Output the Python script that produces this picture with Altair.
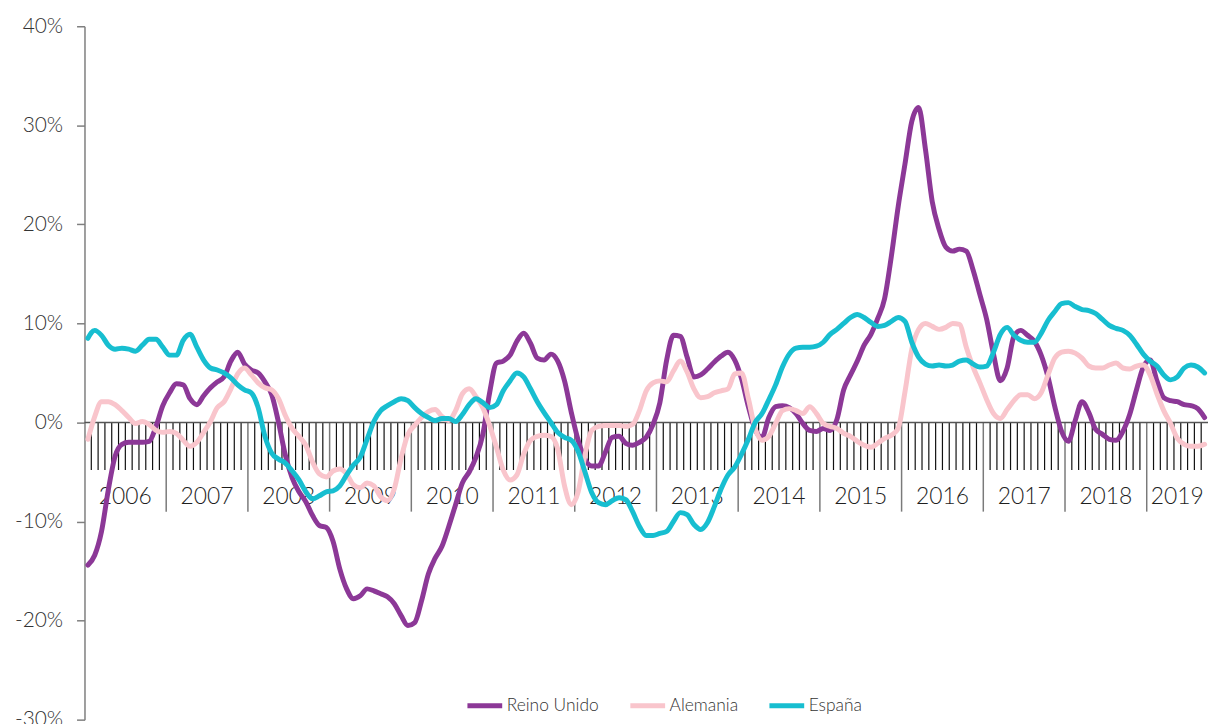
import altair as alt
import pandas as pd

# ---- data (monthly, Jan 2006 .. Sep 2019), in % ----
years = ["2006", "2007", "2008", "2009", "2010", "2011", "2012",
         "2013", "2014", "2015", "2016", "2017", "2018", "2019"]
n_months = 165

reino_unido = [
    -14.4, -13.4, -11.0, -6.8, -3.4, -2.2, -2.0, -2.0, -2.0, -1.9, -0.4, 1.7,
    3.0, 3.9, 3.8, 2.4, 1.8, 2.7, 3.5, 4.1, 4.6, 6.2, 7.1, 5.9,
    5.3, 5.0, 4.1, 2.8, 0.0, -3.3, -5.6, -7.0, -8.0, -9.4, -10.4, -10.6,
    -12.0, -14.8, -16.8, -17.8, -17.5, -16.8, -17.0, -17.3, -17.6, -18.3, -19.5, -20.5,
    -20.2, -18.0, -15.3, -13.7, -12.5, -10.5, -8.3, -6.1, -5.0, -3.5, -1.2, 3.0,
    6.0, 6.2, 6.8, 8.2, 9.0, 8.0, 6.5, 6.3, 6.9, 6.2, 4.2, 1.0,
    -1.8, -3.7, -4.4, -4.4, -3.0, -1.5, -1.4, -2.1, -2.3, -2.0, -1.5, -0.2,
    2.0, 6.3, 8.8, 8.7, 6.6, 4.6, 4.8, 5.4, 6.1, 6.7, 7.1, 6.3,
    4.4, 1.6, -0.7, -1.5, 0.5, 1.6, 1.7, 1.5, 0.9, -0.1, -0.8, -0.9,
    -0.6, -0.8, 0.3, 3.3, 4.8, 6.2, 7.8, 8.9, 10.5, 12.5, 16.8, 21.8,
    26.1, 30.4, 31.8, 27.6, 22.3, 19.5, 17.7, 17.3, 17.5, 17.3, 15.4, 12.9,
    10.4, 6.9, 4.2, 5.5, 8.7, 9.3, 8.8, 8.2, 6.8, 4.6, 1.6, -0.9,
    -1.9, 0.2, 2.1, 1.0, -0.7, -1.2, -1.7, -1.8, -0.9, 0.8, 3.3, 5.6,
    6.3, 4.2, 2.5, 2.2, 2.1, 1.8, 1.7, 1.4, 0.5,
]

alemania = [
    -1.7, 0.6, 2.1, 2.1, 1.8, 1.2, 0.5, -0.1, 0.1, -0.2, -0.8, -1.0,
    -0.9, -1.1, -1.8, -2.4, -2.0, -1.0, 0.1, 1.5, 2.1, 3.4, 4.9, 5.5,
    4.8, 4.0, 3.5, 3.3, 2.4, 0.7, -0.6, -1.4, -2.3, -4.0, -5.2, -5.5,
    -4.9, -4.7, -5.2, -6.3, -6.6, -6.1, -6.4, -7.5, -7.9, -6.7, -3.6, -1.2,
    -0.3, 0.5, 1.1, 1.3, 0.6, 0.2, 1.2, 2.9, 3.4, 2.6, 1.5, -0.3,
    -2.5, -4.8, -5.8, -5.3, -3.2, -1.8, -1.4, -1.3, -1.4, -2.7, -6.4, -8.3,
    -7.0, -3.3, -0.8, -0.4, -0.3, -0.3, -0.3, -0.4, -0.2, 1.2, 3.2, 4.0,
    4.2, 4.1, 5.2, 6.2, 5.1, 3.4, 2.5, 2.6, 3.0, 3.2, 3.4, 4.9,
    5.0, 2.4, -0.6, -1.8, -1.4, -0.1, 1.2, 1.4, 1.2, 0.9, 1.6, 0.9,
    -0.1, -0.4, -0.6, -1.1, -1.4, -1.9, -2.3, -2.5, -2.1, -1.6, -1.3, -0.6,
    3.1, 7.4, 9.4, 10.0, 9.7, 9.4, 9.6, 10.0, 9.9, 7.6, 5.6, 4.0,
    2.3, 0.9, 0.4, 1.3, 2.2, 2.8, 2.8, 2.4, 3.0, 4.8, 6.5, 7.1,
    7.2, 7.0, 6.5, 5.7, 5.5, 5.5, 5.8, 6.0, 5.5, 5.4, 5.7, 5.8,
    4.8, 2.9, 1.2, -0.1, -1.6, -2.2, -2.4, -2.4, -2.2,
]

espana = [
    8.5, 9.3, 8.8, 7.8, 7.4, 7.5, 7.4, 7.2, 7.8, 8.4, 8.4, 7.6,
    6.8, 6.8, 8.3, 8.9, 7.6, 6.3, 5.5, 5.3, 5.0, 4.5, 3.8, 3.3,
    3.0, 1.5, -1.4, -3.1, -3.7, -4.1, -4.9, -5.8, -7.0, -7.7, -7.4, -7.0,
    -6.9, -6.4, -5.3, -4.3, -3.5, -1.7, 0.1, 1.2, 1.7, 2.1, 2.4, 2.2,
    1.5, 0.9, 0.5, 0.2, 0.4, 0.4, 0.1, 0.8, 1.8, 2.4, 2.0, 1.5,
    1.8, 3.2, 4.2, 5.0, 4.6, 3.4, 2.1, 1.0, 0.0, -1.0, -1.5, -1.8,
    -2.9, -5.0, -7.1, -8.1, -8.3, -7.9, -7.6, -7.8, -9.0, -10.5, -11.4, -11.4,
    -11.2, -11.0, -10.0, -9.1, -9.3, -10.3, -10.8, -10.1, -8.5, -6.7, -5.3, -4.5,
    -3.2, -1.7, 0.0, 0.9, 2.3, 3.8, 5.6, 6.9, 7.5, 7.6, 7.6, 7.7,
    8.1, 8.9, 9.4, 10.0, 10.6, 10.9, 10.6, 10.1, 9.7, 9.8, 10.2, 10.6,
    10.2, 8.1, 6.6, 5.9, 5.7, 5.8, 5.7, 5.8, 6.2, 6.3, 5.9, 5.6,
    5.7, 7.1, 8.9, 9.6, 8.8, 8.3, 8.1, 8.1, 9.0, 10.3, 11.2, 12.0,
    12.1, 11.7, 11.4, 11.3, 11.0, 10.4, 9.8, 9.5, 9.3, 8.8, 7.9, 6.9,
    6.2, 5.7, 4.8, 4.3, 4.6, 5.5, 5.8, 5.6, 5.0,
]

series_names = ["Reino Unido", "Alemania", "España"]
series_colors = ["#8C3897", "#F9C5CC", "#17BED0"]
y_ticks = [-30, -20, -10, 0, 10, 20, 30, 40]

# ---- tables ----
rows = []
for name, vals in zip(series_names, [reino_unido, alemania, espana]):
    for i, v in enumerate(vals):
        rows.append({"t": i, "serie": name, "v": v, "order": series_names.index(name)})
df = pd.DataFrame(rows)

bounds = [k - 0.5 for k in range(1, n_months)]
month_ticks = pd.DataFrame({"b": [b for b in bounds if int(b + 0.5) % 12 != 0]})
year_ticks = pd.DataFrame({"b": [b for b in bounds if int(b + 0.5) % 12 == 0]})
year_lab = pd.DataFrame({
    "year": years,
    "c": [((12 * k - 0.5) + min(12 * k + 11.5, n_months - 0.5)) / 2 for k in range(len(years))],
})
zero_df = pd.DataFrame({"z": [0]})

FONT = "Lato"
xscale = alt.Scale(domain=[-0.5, n_months - 0.5], nice=False, zero=False)
yscale = alt.Scale(domain=[-30, 40], nice=False, zero=False)

lines = alt.Chart(df).mark_line(
    strokeWidth=5, interpolate="monotone", strokeCap="round", strokeJoin="round"
).encode(
    x=alt.X("t:Q", scale=xscale, axis=None),
    y=alt.Y(
        "v:Q",
        scale=yscale,
        axis=alt.Axis(
            values=y_ticks,
            labelExpr="datum.value + '%'",
            title=None,
            grid=False,
            orient="left",
            domainColor="#7f7f7f",
            domainWidth=1.5,
            tickColor="#7f7f7f",
            tickWidth=1.5,
            tickSize=8,
            labelPadding=14,
            labelFont=FONT,
            labelFontSize=21,
            labelFontWeight=300,
            labelColor="#333333",
        ),
    ),
    color=alt.Color(
        "serie:N",
        scale=alt.Scale(domain=series_names, range=series_colors),
        legend=alt.Legend(
            orient="none",
            legendX=383,
            legendY=664,
            direction="horizontal",
            title=None,
            symbolType="stroke",
            symbolStrokeWidth=5,
            symbolSize=1225,
            labelFont=FONT,
            labelFontSize=17.5,
            labelFontWeight=300,
            labelColor="#333333",
            labelOffset=2,
            columnPadding=21,
            padding=0,
        ),
    ),
    order=alt.Order("order:Q"),
)

mticks = alt.Chart(month_ticks).mark_rule(color="#111111", strokeWidth=1.2).encode(
    x=alt.X("b:Q", scale=xscale, axis=None),
    y=alt.Y(datum=0, scale=yscale, axis=None),
    y2=alt.Y2(datum=-4.8),
)

yticks_rules = alt.Chart(year_ticks).mark_rule(color="#7a7a7a", strokeWidth=1.5).encode(
    x=alt.X("b:Q", scale=xscale, axis=None),
    y=alt.Y(datum=0, scale=yscale, axis=None),
    y2=alt.Y2(datum=-9.0),
)

zero_line = alt.Chart(zero_df).mark_rule(color="#555555", strokeWidth=1.4).encode(
    y=alt.Y("z:Q", scale=yscale, axis=None),
)

ylabels = alt.Chart(year_lab).mark_text(
    font=FONT, fontSize=23, fontWeight=300, color="#1f1f1f", baseline="middle", align="center"
).encode(
    x=alt.X("c:Q", scale=xscale, axis=None),
    y=alt.Y(datum=-7.5, scale=yscale, axis=None),
    text="year:N",
)

chart = alt.layer(mticks, yticks_rules, zero_line, ylabels, lines).resolve_axis(
    y="independent"
).properties(
    width=1131,
    height=698,
    autosize=alt.AutoSizeParams(type="none"),
    padding={"left": 77, "top": 16, "right": 0, "bottom": 2},
).configure_view(stroke=None)

chart.save("out.html", embed_options={"renderer": "svg", "actions": False})
